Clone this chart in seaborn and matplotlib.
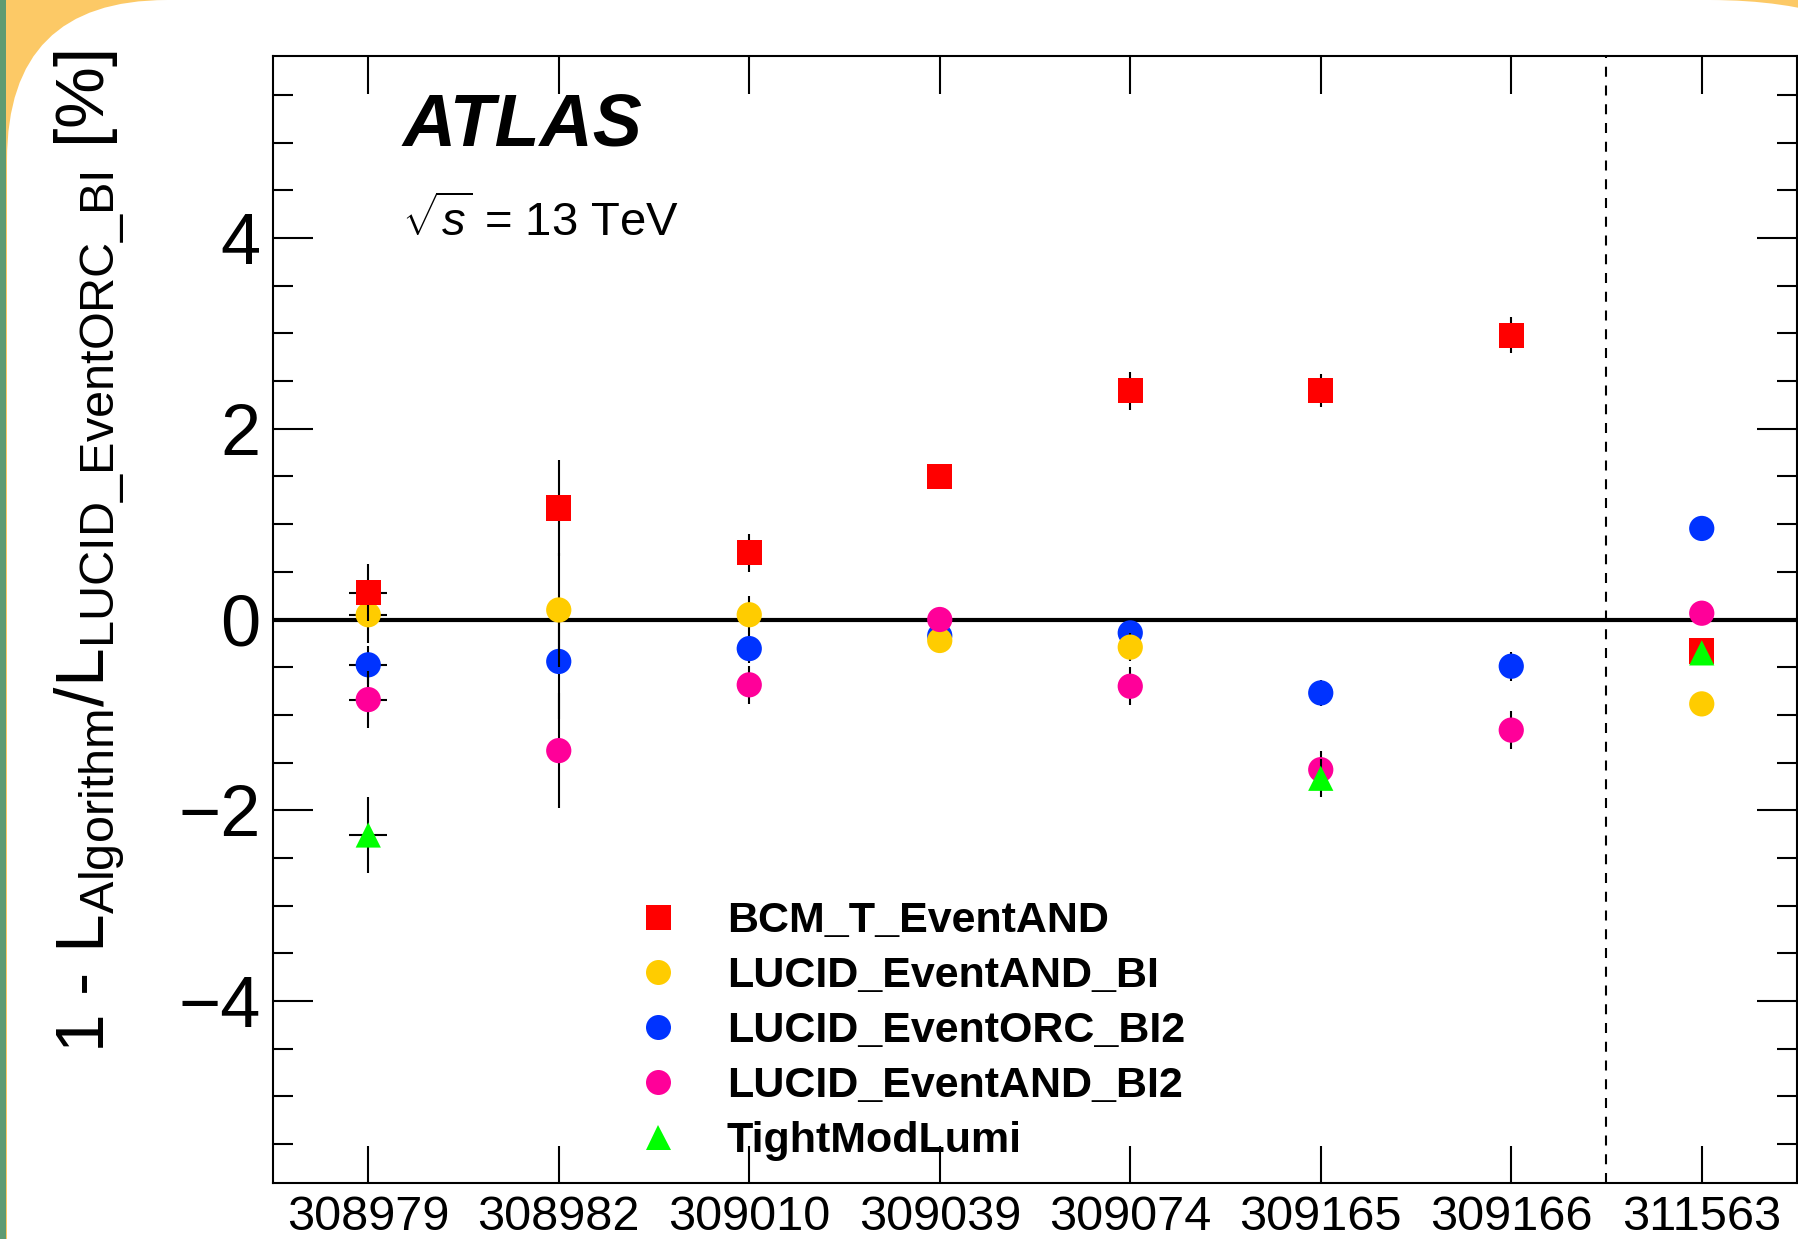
import numpy as np
import pandas as pd
import matplotlib
matplotlib.use("Agg")
import matplotlib.pyplot as plt
from matplotlib.lines import Line2D
from matplotlib.patches import FancyBboxPatch, Rectangle
from matplotlib.transforms import IdentityTransform
from matplotlib.ticker import MultipleLocator, NullLocator
import seaborn as sns

# ---------------- data ----------------
runs = ["308979", "308982", "309010", "309039", "309074", "309165", "309166", "311563"]
nan = np.nan

series_names = ["BCM_T_EventAND", "LUCID_EventAND_BI", "LUCID_EventORC_BI2",
                "LUCID_EventAND_BI2", "TightModLumi"]

bcm_t_eventand = [0.28, 1.17, 0.70, 1.50, 2.40, 2.40, 2.98, -0.33]
bcm_t_eventand_err = [0.30, 0.50, 0.20, 0.08, 0.20, 0.17, 0.19, 0.05]

lucid_eventand_bi = [0.05, 0.10, 0.05, -0.22, -0.29, nan, nan, -0.885]
lucid_eventand_bi_err = [0.30, 0.60, 0.20, 0.05, 0.15, nan, nan, 0.05]

lucid_eventorc_bi2 = [-0.475, -0.44, -0.305, -0.17, -0.14, -0.77, -0.49, 0.955]
lucid_eventorc_bi2_err = [0.20, 0.60, 0.15, 0.05, 0.10, 0.14, 0.15, 0.05]

lucid_eventand_bi2 = [-0.84, -1.375, -0.685, 0.0, -0.70, -1.575, -1.16, 0.066]
lucid_eventand_bi2_err = [0.30, 0.60, 0.20, 0.05, 0.20, 0.20, 0.20, 0.05]

tightmodlumi = [-2.26, nan, nan, nan, nan, -1.665, nan, -0.35]
tightmodlumi_err = [0.40, nan, nan, nan, nan, 0.20, nan, 0.05]

run_xerr = [0.1, 0, 0, 0, 0, 0, 0, 0]

colors = {"BCM_T_EventAND": "#FF0000", "LUCID_EventAND_BI": "#FFCC00",
          "LUCID_EventORC_BI2": "#0033FF", "LUCID_EventAND_BI2": "#FF0099",
          "TightModLumi": "#00FF00"}
markers = {"BCM_T_EventAND": "s", "LUCID_EventAND_BI": "o",
           "LUCID_EventORC_BI2": "o", "LUCID_EventAND_BI2": "o",
           "TightModLumi": "^"}

values = {"BCM_T_EventAND": (bcm_t_eventand, bcm_t_eventand_err),
          "LUCID_EventAND_BI": (lucid_eventand_bi, lucid_eventand_bi_err),
          "LUCID_EventORC_BI2": (lucid_eventorc_bi2, lucid_eventorc_bi2_err),
          "LUCID_EventAND_BI2": (lucid_eventand_bi2, lucid_eventand_bi2_err),
          "TightModLumi": (tightmodlumi, tightmodlumi_err)}

rows = []
for name in series_names:
    v, e = values[name]
    for i, r in enumerate(runs):
        rows.append({"run": r, "pos": i, "algorithm": name, "value": v[i],
                     "err": e[i], "xerr": run_xerr[i]})
df = pd.DataFrame(rows)

# ---------------- style ----------------
sns.set_theme(style="ticks")
plt.rcParams["font.family"] = ["Liberation Sans", "DejaVu Sans"]
plt.rcParams["mathtext.fontset"] = "custom"
plt.rcParams["mathtext.rm"] = "Liberation Sans"
plt.rcParams["mathtext.it"] = "Liberation Sans:italic"
plt.rcParams["mathtext.bf"] = "Liberation Sans:bold"
plt.rcParams["axes.linewidth"] = 1.5
plt.rcParams["text.color"] = "black"
plt.rcParams["axes.labelcolor"] = "black"
plt.rcParams["xtick.color"] = "black"
plt.rcParams["ytick.color"] = "black"

W, H = 1799, 1239
fig = plt.figure(figsize=(W / 100, H / 100), dpi=100, facecolor="#FCC966")

# background panel decoration (pixel coordinates)
idt = IdentityTransform()
fig.add_artist(FancyBboxPatch((7, -500), 1300, H + 500,
                              boxstyle="round,pad=0,rounding_size=160",
                              transform=idt, fc="white", ec="none", zorder=-10))
fig.add_artist(FancyBboxPatch((600, -500), 1410, H + 500,
                              boxstyle="round,pad=0,rounding_size=300",
                              transform=idt, fc="white", ec="none", zorder=-10))
fig.add_artist(Rectangle((0, 0), 6, H, transform=idt, fc="#5E9B72",
                         ec="none", zorder=-9))

ax = fig.add_axes([273 / W, 1 - 1183 / H, (1797 - 273) / W, (1183 - 56) / H])
ax.set_facecolor("white")

ax.axhline(0, color="black", lw=3, zorder=1.5)
ax.axvline(6.5, color="black", lw=1.5, ls=(0, (4.8, 4.2)), zorder=1.4)

draw_order = ["LUCID_EventORC_BI2", "LUCID_EventAND_BI", "LUCID_EventAND_BI2",
              "BCM_T_EventAND", "TightModLumi"]
for k, name in enumerate(draw_order):
    sub = df[df["algorithm"] == name]
    z = 3 + 2 * k
    ax.errorbar(sub["pos"], sub["value"], yerr=sub["err"], xerr=sub["xerr"],
                fmt="none", ecolor="black", elinewidth=1.5, capsize=0, zorder=z)
    sns.scatterplot(data=sub, x="pos", y="value", marker=markers[name],
                    color=colors[name], s=330, linewidth=0, edgecolor="none",
                    ax=ax, zorder=z + 1, legend=False)

ax.set_xlim(-0.5, 7.5)
ax.set_ylim(-5.91, 5.91)
ax.set_xticks(range(len(runs)))
ax.set_xticklabels(runs)
ax.xaxis.set_minor_locator(NullLocator())
ax.set_yticks([-4, -2, 0, 2, 4])
ax.yaxis.set_minor_locator(MultipleLocator(0.5))
ax.tick_params(axis="x", which="major", direction="in", length=27, width=1.5,
               top=True, bottom=True, labelsize=35, pad=9, colors="black")
ax.tick_params(axis="y", which="major", direction="in", length=29, width=1.5,
               left=True, right=True, labelsize=52, pad=9, colors="black")
ax.tick_params(axis="y", which="minor", direction="in", length=14.5, width=1.5,
               left=True, right=True, colors="black")
for s in ax.spines.values():
    s.set_color("black")
    s.set_linewidth(1.5)
ax.set_xlabel("")
ax.set_ylabel(r"1 - L$_{\mathrm{Algorithm}}$/L$_{\mathrm{LUCID\_EventORC\_BI}}$ [%]",
              fontsize=50, loc="top", color="black")
ax.yaxis.set_label_coords(-0.096, 1.005)

ax.text(0.0853, 0.9195, "ATLAS", transform=ax.transAxes, fontsize=53,
        fontweight="bold", fontstyle="italic", va="baseline", ha="left",
        color="black")
ax.text(0.0845, 0.8397, r"$\sqrt{s}$ = 13 TeV", transform=ax.transAxes,
        fontsize=34, va="baseline", ha="left", color="black")

handles = [Line2D([], [], marker=markers[n], color=colors[n], ls="none",
                  markersize=18, markeredgewidth=0) for n in series_names]
leg = ax.legend(handles, series_names, loc="upper left",
                bbox_to_anchor=(0.2385, 0.2502),
                frameon=False, borderaxespad=0, borderpad=0, handlelength=1.0,
                handletextpad=1.10, labelspacing=0.35,
                prop={"weight": "bold", "size": 31})
for t in leg.get_texts():
    t.set_color("black")

fig.savefig("out.png", dpi=100, facecolor=fig.get_facecolor())
